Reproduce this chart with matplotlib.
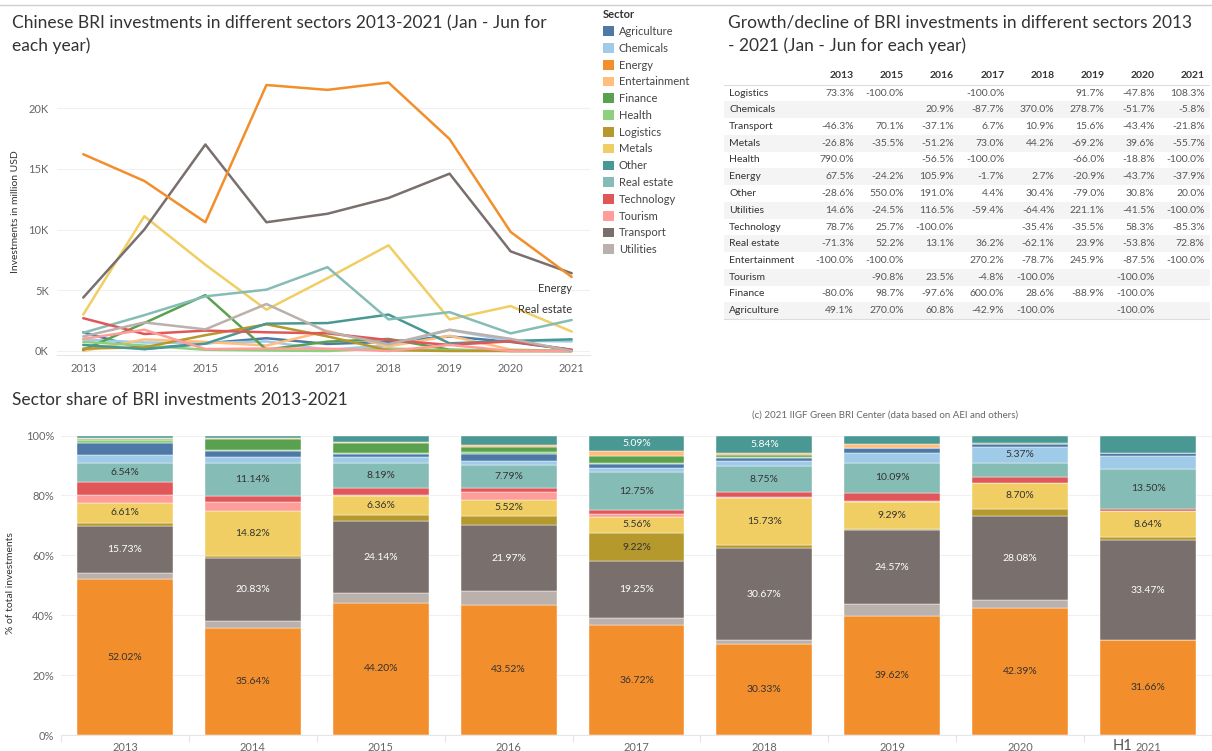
import numpy as np
import matplotlib.pyplot as plt
from matplotlib.patches import Patch
from matplotlib.lines import Line2D
from matplotlib.ticker import FuncFormatter

plt.rcParams['font.family'] = ['Lato', 'DejaVu Sans']

years = [2013, 2014, 2015, 2016, 2017, 2018, 2019, 2020, 2021]

sectors = ['Agriculture', 'Chemicals', 'Energy', 'Entertainment', 'Finance', 'Health',
           'Logistics', 'Metals', 'Other', 'Real estate', 'Technology', 'Tourism',
           'Transport', 'Utilities']

colors = {'Agriculture': '#4E79A7', 'Chemicals': '#A0CBE8', 'Energy': '#F28E2B',
          'Entertainment': '#FFBE7D', 'Finance': '#59A14F', 'Health': '#8CD17D',
          'Logistics': '#B6992D', 'Metals': '#F1CE63', 'Other': '#499894',
          'Real estate': '#86BCB6', 'Technology': '#E15759', 'Tourism': '#FF9D9A',
          'Transport': '#79706E', 'Utilities': '#BAB0AC'}

# investments, million USD (Jan - Jun)
inv_agriculture = [1540, 170, 630, 1050, 580, 750, 1200, 750, 100]
inv_chemicals = [950, 700, 650, 790, 100, 460, 1730, 840, 790]
inv_energy = [16200, 14000, 10600, 21900, 21500, 22100, 17450, 9800, 6100]
inv_entertainment = [0, 950, 750, 450, 1650, 380, 1250, 120, 0]
inv_finance = [100, 2300, 4600, 110, 770, 990, 110, 0, 0]
inv_health = [750, 450, 100, 40, 0, 200, 70, 50, 0]
inv_logistics = [200, 300, 1300, 2200, 1200, 60, 0, 0, 0]
inv_metals = [3000, 11100, 7100, 3400, 6000, 8700, 2600, 3700, 1600]
inv_other = [500, 150, 600, 2250, 2300, 3000, 630, 820, 960]
inv_realestate = [1500, 2950, 4500, 5050, 6900, 2600, 3200, 1450, 2550]
inv_technology = [2700, 1400, 1680, 1540, 1450, 900, 500, 800, 100]
inv_tourism = [1000, 1750, 160, 200, 190, 0, 500, 0, 0]
inv_transport = [4400, 10000, 17000, 10600, 11300, 12600, 14600, 8200, 6400]
inv_utilities = [1200, 2350, 1780, 3870, 1570, 560, 1750, 1000, 0]

investments = {'Agriculture': inv_agriculture, 'Chemicals': inv_chemicals,
               'Energy': inv_energy, 'Entertainment': inv_entertainment,
               'Finance': inv_finance, 'Health': inv_health, 'Logistics': inv_logistics,
               'Metals': inv_metals, 'Other': inv_other, 'Real estate': inv_realestate,
               'Technology': inv_technology, 'Tourism': inv_tourism,
               'Transport': inv_transport, 'Utilities': inv_utilities}

# growth table (None = blank)
table_years = ['2013', '2015', '2016', '2017', '2018', '2019', '2020', '2021']
table_rows = ['Logistics', 'Chemicals', 'Transport', 'Metals', 'Health', 'Energy', 'Other',
              'Utilities', 'Technology', 'Real estate', 'Entertainment', 'Tourism',
              'Finance', 'Agriculture']
growth = [
    [73.3, -100.0, None, -100.0, None, 91.7, -47.8, 108.3],
    [None, None, 20.9, -87.7, 370.0, 278.7, -51.7, -5.8],
    [-46.3, 70.1, -37.1, 6.7, 10.9, 15.6, -43.4, -21.8],
    [-26.8, -35.5, -51.2, 73.0, 44.2, -69.2, 39.6, -55.7],
    [790.0, None, -56.5, -100.0, None, -66.0, -18.8, -100.0],
    [67.5, -24.2, 105.9, -1.7, 2.7, -20.9, -43.7, -37.9],
    [-28.6, 550.0, 191.0, 4.4, 30.4, -79.0, 30.8, 20.0],
    [14.6, -24.5, 116.5, -59.4, -64.4, 221.1, -41.5, -100.0],
    [78.7, 25.7, -100.0, None, -35.4, -35.5, 58.3, -85.3],
    [-71.3, 52.2, 13.1, 36.2, -62.1, 23.9, -53.8, 72.8],
    [-100.0, -100.0, None, 270.2, -78.7, 245.9, -87.5, -100.0],
    [None, -90.8, 23.5, -4.8, -100.0, None, -100.0, None],
    [-80.0, 98.7, -97.6, 600.0, 28.6, -88.9, -100.0, None],
    [49.1, 270.0, 60.8, -42.9, -100.0, None, -100.0, None],
]

# sector shares (% of total), stacked bottom -> top
stack_order = ['Energy', 'Utilities', 'Transport', 'Logistics', 'Metals', 'Tourism',
               'Technology', 'Real estate', 'Chemicals', 'Agriculture', 'Health',
               'Finance', 'Entertainment', 'Other']
share_energy = [52.02, 35.64, 44.20, 43.52, 36.72, 30.33, 39.62, 42.39, 31.66]
share_utilities = [2.0, 2.6, 3.1, 4.6, 2.2, 1.3, 4.2, 2.6, 0.0]
share_transport = [15.73, 20.83, 24.14, 21.97, 19.25, 30.67, 24.57, 28.08, 33.47]
share_logistics = [1.2, 0.8, 1.9, 3.0, 9.22, 1.0, 0.3, 2.5, 1.0]
share_metals = [6.61, 14.82, 6.36, 5.52, 5.56, 15.73, 9.29, 8.70, 8.64]
share_tourism = [2.6, 3.1, 0.3, 2.5, 0.7, 0.3, 0.3, 0.0, 0.2]
share_technology = [4.2, 2.0, 2.6, 1.3, 1.4, 1.7, 2.6, 2.0, 0.5]
share_realestate = [6.54, 11.14, 8.19, 7.79, 12.75, 8.75, 10.09, 4.6, 13.50]
share_chemicals = [2.6, 1.9, 2.0, 1.4, 1.5, 1.78, 3.3, 5.37, 4.3]
share_agriculture = [4.0, 2.0, 1.2, 2.4, 1.3, 0.8, 1.5, 0.8, 0.9]
share_health = [1.0, 0.4, 0.3, 0.6, 0.3, 0.4, 0.05, 0.3, 0.0]
share_finance = [0.2, 3.5, 3.1, 1.7, 2.3, 0.8, 0.1, 0.1, 0.0]
share_entertainment = [0.4, 0.6, 0.6, 0.7, 1.71, 0.6, 1.4, 0.2, 0.0]
share_other = [0.9, 0.67, 2.01, 3.0, 5.09, 5.84, 2.68, 2.36, 5.83]

shares = {'Energy': share_energy, 'Utilities': share_utilities, 'Transport': share_transport,
          'Logistics': share_logistics, 'Metals': share_metals, 'Tourism': share_tourism,
          'Technology': share_technology, 'Real estate': share_realestate,
          'Chemicals': share_chemicals, 'Agriculture': share_agriculture,
          'Health': share_health, 'Finance': share_finance,
          'Entertainment': share_entertainment, 'Other': share_other}
bar_labels = [str(y) for y in years]
hidden_labels = [('2021', 'Other')]

W, H = 1212, 751
fig = plt.figure(figsize=(W / 100, H / 100), dpi=100)

def fx(px):
    return px / W

def fy(py):
    return 1 - py / H

TXT = '#333333'
GRAY = '#666666'

# thin separator line at top
fig.add_artist(Line2D([0, 1], [fy(5), fy(5)], color='#d0d0d0', lw=1))

# ---------------- line chart ----------------
fig.text(fx(12), fy(15), 'Chinese BRI investments in different sectors 2013-2021 (Jan - Jun for\neach year)',
         fontsize=12.5, color=TXT, va='top', ha='left', linespacing=1.45)

ax1 = fig.add_axes([fx(57), fy(355), fx(590 - 57), fy(68) - fy(355)])
for s in sectors:
    z = 3 if s == 'Energy' else 2
    ax1.plot(years, investments[s], color=colors[s], lw=1.8, zorder=z, solid_capstyle='round')
ax1.set_xlim(2012.57, 2021.3)
ax1.set_ylim(-330, 23300)
ax1.set_xticks(years)
ax1.set_yticks([0, 5000, 10000, 15000, 20000])
ax1.yaxis.set_major_formatter(FuncFormatter(lambda v, p: f'{int(v / 1000)}K'))
ax1.grid(axis='y', color='#f0f0f0', lw=0.8)
ax1.set_axisbelow(True)
for sp in ax1.spines.values():
    sp.set_visible(False)
ax1.spines['bottom'].set_visible(True)
ax1.spines['bottom'].set_color('#e6e6e6')
ax1.tick_params(length=0, labelsize=8, labelcolor=GRAY, pad=6)
ax1.set_ylabel('Investments in million USD', fontsize=7.5, color=TXT, labelpad=6)
ax1.annotate('Energy', (years[-1], inv_energy[-1]), xytext=(0, -12), textcoords='offset pixels',
             ha='right', va='center', fontsize=8, color=TXT)
ax1.annotate('Real estate', (years[-1], inv_realestate[-1]), xytext=(0, 11), textcoords='offset pixels',
             ha='right', va='center', fontsize=8, color=TXT)

# legend
handles = [Patch(facecolor=colors[s], edgecolor='none') for s in sectors]
leg = fig.legend(handles, sectors, loc='upper left', bbox_to_anchor=(fx(601), fy(7)),
                 frameon=False, title='Sector', alignment='left', fontsize=8,
                 handlelength=0.95, handleheight=0.95, handletextpad=0.45,
                 labelspacing=0.52, borderaxespad=0, borderpad=0.2)
leg.get_title().set_fontsize(8)
leg.get_title().set_fontweight('bold')
leg.get_title().set_color(TXT)
for t in leg.get_texts():
    t.set_color('#444444')

# ---------------- table ----------------
fig.text(fx(728), fy(15), 'Growth/decline of BRI investments in different sectors 2013\n- 2021 (Jan - Jun for each year)',
         fontsize=12.5, color=TXT, va='top', ha='left', linespacing=1.45)

tx0, tx1, ty0, ty1 = 724, 1210, 66, 322
axt = fig.add_axes([fx(tx0), fy(ty1), fx(tx1 - tx0), fy(ty0) - fy(ty1)])
axt.set_xlim(tx0, tx1)
axt.set_ylim(ty1, ty0)
axt.axis('off')
row_h = 16.75
row_y0 = 93
col_right = [854 + 50.1 * j for j in range(len(table_years))]
for j, yl in enumerate(table_years):
    axt.text(col_right[j], 76, yl, ha='right', va='center', fontsize=7.5,
             fontweight='bold', color=TXT)
axt.plot([tx0, tx1], [row_y0 - row_h / 2, row_y0 - row_h / 2], color='#dddddd', lw=0.8)
for i, name in enumerate(table_rows):
    yc = row_y0 + i * row_h
    if i % 2 == 1:
        axt.fill_between([tx0, tx1], yc - row_h / 2, yc + row_h / 2, color='#f4f4f4', lw=0)
    axt.text(729, yc, name, ha='left', va='center', fontsize=7.5, color=TXT)
    for j, v in enumerate(growth[i]):
        if v is not None:
            axt.text(col_right[j], yc, f'{v:.1f}%', ha='right', va='center',
                     fontsize=7.5, color='#555555')
yb = row_y0 + (len(table_rows) - 0.5) * row_h
axt.plot([tx0, tx1], [yb, yb], color='#dddddd', lw=0.8)

# ---------------- stacked bars ----------------
fig.text(fx(12), fy(400), 'Sector share of BRI investments 2013-2021', fontsize=12.5,
         color=TXT, va='center', ha='left')
fig.text(fx(885), fy(415), '(c) 2021 IIGF Green BRI Center (data based on AEI and others)',
         fontsize=7, color=GRAY, va='center', ha='center')

ax2 = fig.add_axes([fx(61), fy(735), fx(1212 - 61), fy(432) - fy(735)])
x = np.arange(len(years))
bottom = np.zeros(len(years))
for s in stack_order:
    vals = np.array(shares[s])
    ax2.bar(x, vals, bottom=bottom, width=0.75, color=colors[s], edgecolor='white',
            linewidth=0.3, zorder=2)
    for k in range(len(years)):
        if vals[k] >= 5 and (bar_labels[k], s) not in hidden_labels:
            c = 'white' if s in ('Transport', 'Other') else TXT
            ax2.text(x[k], bottom[k] + vals[k] / 2, f'{vals[k]:.2f}%', ha='center',
                     va='center', fontsize=7.5, color=c, zorder=3)
    bottom += vals
ax2.set_xlim(-0.5, len(years) - 0.5)
ax2.set_ylim(0, 101.2)
ax2.set_yticks([0, 20, 40, 60, 80, 100])
ax2.yaxis.set_major_formatter(FuncFormatter(lambda v, p: f'{int(v)}%'))
ax2.set_xticks(x)
ax2.set_xticklabels(bar_labels)
ax2.get_xticklabels()[-1].set_x(x[-1])
ax2.set_xticks(np.arange(-0.5, len(years)), minor=True)
ax2.tick_params(which='major', length=0, labelsize=8, labelcolor=GRAY, pad=5)
ax2.tick_params(which='minor', length=5, color='#e4e4e4', width=0.8)
ax2.grid(axis='y', color='#f0f0f0', lw=0.8)
ax2.set_axisbelow(True)
for sp in ax2.spines.values():
    sp.set_visible(False)
ax2.spines['bottom'].set_visible(True)
ax2.spines['bottom'].set_color('#e6e6e6')
ax2.set_ylabel('% of total investments', fontsize=7.5, color=TXT, labelpad=8)
ax2.annotate('H1', (x[-1], 0), xycoords=('data', 'axes fraction'), xytext=(-26, -11),
             textcoords='offset pixels', ha='center', va='center', fontsize=10.5, color='#555555')

fig.savefig('out.png', dpi=100)
